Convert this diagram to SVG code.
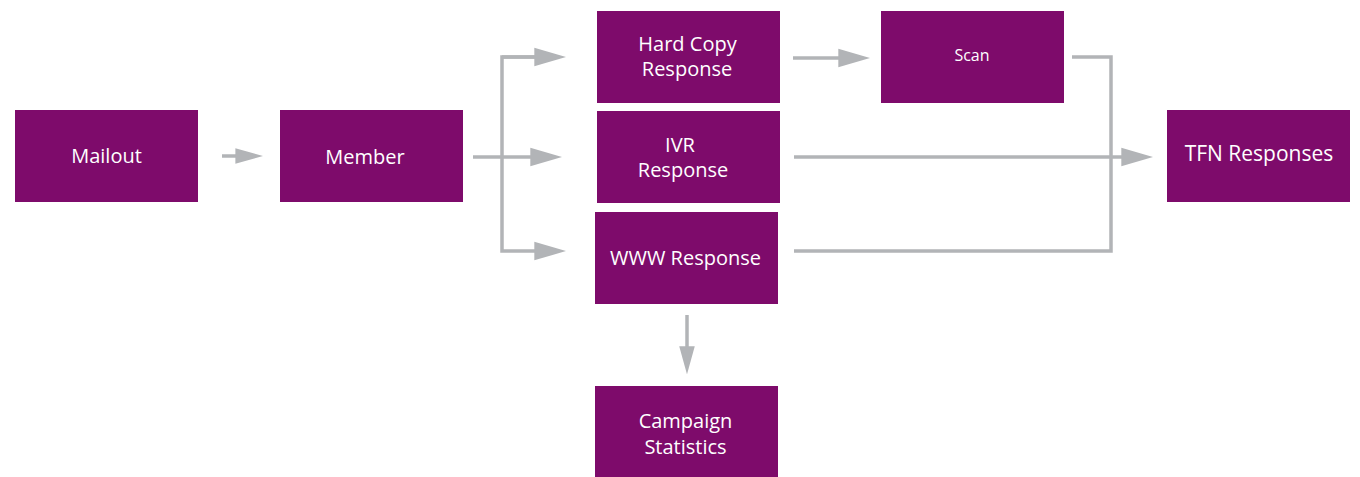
<svg xmlns="http://www.w3.org/2000/svg" width="1360" height="477" viewBox="0 0 1360 477">
<style>
.box{fill:#7e0b6b}
.t{font-family:"Open Sans","Liberation Sans",sans-serif;font-size:20px;font-weight:500;fill:#ffffff;text-anchor:middle}
.s{font-size:16px}
.l{font-size:21px}
.c{fill:none;stroke:#b2b4b7;stroke-width:3.5}
</style>
<defs>
<marker id="ah" markerUnits="userSpaceOnUse" markerWidth="32" markerHeight="20" viewBox="0 0 31 18" refX="21" refY="9" orient="auto">
<path d="M0,0 L31,9 L0,18 Z" fill="#b2b4b7"/>
</marker>
<marker id="ahs" markerUnits="userSpaceOnUse" markerWidth="28" markerHeight="16" viewBox="0 0 27 15" refX="17" refY="7.5" orient="auto">
<path d="M0,0 L27,7.5 L0,15 Z" fill="#b2b4b7"/>
</marker>
</defs>
<g id="connectors">
<path class="c" d="M222,156 H253" marker-end="url(#ahs)"/>
<path class="c" d="M473,157 H552" marker-end="url(#ah)"/>
<path class="c" d="M556,57 H502 V251 H556" marker-end="url(#ah)"/>
<path class="c" d="M502,57 H556" marker-end="url(#ah)"/>
<path class="c" d="M793,58 H860" marker-end="url(#ah)"/>
<path class="c" d="M1072,57 H1111 V251 H794"/>
<path class="c" d="M794,157 H1143" marker-end="url(#ah)"/>
<path class="c" d="M687,315 V364" marker-end="url(#ahs)"/>
</g>
<g id="mailout"><rect class="box" x="15" y="110" width="183" height="92"/><text class="t" x="106.5" y="163">Mailout</text></g>
<g id="member"><rect class="box" x="280" y="110" width="183" height="92"/><text class="t" x="365" y="164">Member</text></g>
<g id="hardcopy"><rect class="box" x="597" y="11" width="183" height="92"/><text class="t" x="687.5" y="51">Hard Copy</text><text class="t" x="687" y="76">Response</text></g>
<g id="scan"><rect class="box" x="881" y="11" width="183" height="92"/><text class="t s" x="972" y="61">Scan</text></g>
<g id="ivr"><rect class="box" x="597" y="111" width="183" height="92"/><text class="t" x="680" y="152">IVR</text><text class="t" x="683" y="177">Response</text></g>
<g id="www"><rect class="box" x="595" y="212" width="183" height="92"/><text class="t" x="685.5" y="265">WWW Response</text></g>
<g id="tfn"><rect class="box" x="1167" y="110" width="183" height="92"/><text class="t l" x="1259" y="161">TFN Responses</text></g>
<g id="campaign"><rect class="box" x="595" y="386" width="183" height="91"/><text class="t" x="685.5" y="428">Campaign</text><text class="t" x="685.5" y="454">Statistics</text></g>
</svg>
